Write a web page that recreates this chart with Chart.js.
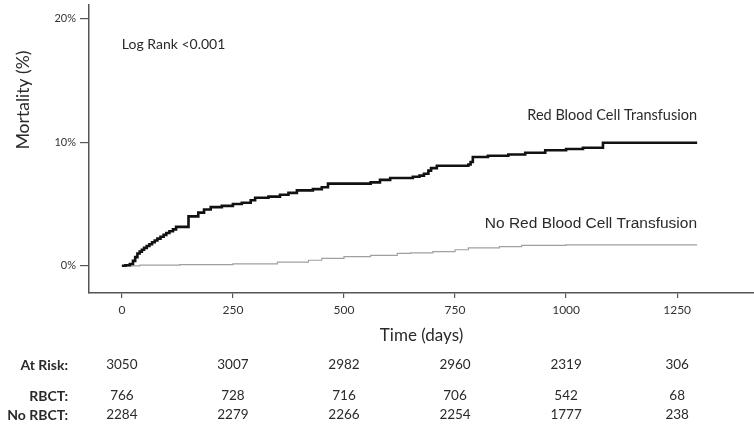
<!DOCTYPE html>
<html><head><meta charset="utf-8">
<script src="https://cdn.jsdelivr.net/npm/chart.js@4.4.0/dist/chart.umd.min.js"></script>
<style>html,body{margin:0;padding:0;background:#fff}#wrap{width:754px;height:429px;position:relative}</style>
</head><body><div id="wrap"><canvas id="c" width="754" height="429"></canvas></div>
<script>
// ---- Data ----
const rbcDays      = [0, 8, 18, 25, 30, 35, 40, 45, 50, 56, 62, 68, 74, 80, 87, 94, 100, 107, 115, 122, 150, 172, 185, 200, 225, 250, 270, 290, 300, 330, 356, 375, 394, 430, 450, 464, 560, 581, 604, 655, 670, 680, 690, 696, 709, 780, 785, 790, 824, 870, 908, 953, 1000, 1038, 1083, 1295];
const rbcMortality = [0, 0.05, 0.15, 0.4, 0.7, 1.0, 1.15, 1.3, 1.45, 1.6, 1.75, 1.9, 2.05, 2.2, 2.35, 2.5, 2.65, 2.8, 2.95, 3.15, 4.0, 4.3, 4.55, 4.75, 4.85, 5.0, 5.1, 5.3, 5.5, 5.6, 5.75, 5.9, 6.1, 6.2, 6.35, 6.65, 6.75, 6.95, 7.1, 7.2, 7.3, 7.45, 7.7, 7.9, 8.1, 8.2, 8.4, 8.8, 8.9, 9.0, 9.15, 9.35, 9.45, 9.55, 9.95, 9.95];
const noRbcDays      = [0, 40, 130, 250, 350, 420, 450, 500, 560, 620, 650, 700, 750, 780, 850, 900, 1000, 1295];
const noRbcMortality = [0, 0.05, 0.1, 0.15, 0.3, 0.45, 0.6, 0.75, 0.85, 1.0, 1.05, 1.15, 1.3, 1.45, 1.55, 1.65, 1.7, 1.7];
const xTicks = [0, 250, 500, 750, 1000, 1250];
const yTicks = [0, 10, 20];
const riskLabels = ['At Risk:', 'RBCT:', 'No RBCT:'];
const atRisk     = [3050, 3007, 2982, 2960, 2319, 306];
const rbctRisk   = [766, 728, 716, 706, 542, 68];
const noRbctRisk = [2284, 2279, 2266, 2254, 1777, 238];
const seriesNames = ['Red Blood Cell Transfusion', 'No Red Blood Cell Transfusion'];

const toPts = (xs, ys) => xs.map((x, i) => ({x: x, y: ys[i]}));
const axisColor = '#555';
const calibri = 'Lato, "Open Sans", sans-serif';

const textPlugin = {
  id: 'texts',
  afterDraw(chart) {
    const ctx = chart.ctx;
    const xs = chart.scales.x;
    ctx.save();
    ctx.fillStyle = '#2a2a2a';
    ctx.textBaseline = 'middle';
    // y axis title
    ctx.save();
    ctx.translate(23, 100);
    ctx.rotate(-Math.PI / 2);
    ctx.textAlign = 'center';
    ctx.font = '17.5px ' + calibri;
    ctx.fillText('Mortality (%)', 0, 0);
    ctx.restore();
    // Log rank
    ctx.textAlign = 'left';
    ctx.font = '14px ' + calibri;
    ctx.fillText('Log Rank <0.001', xs.getPixelForValue(0), 44);
    // series labels
    ctx.textAlign = 'right';
    ctx.font = '14.5px ' + calibri;
    ctx.fillText(seriesNames[0], 697, 115);
    ctx.font = '15.5px "Liberation Sans", Arial, sans-serif';
    ctx.fillText(seriesNames[1], 697, 224);
    // risk table
    const rows = [atRisk, rbctRisk, noRbctRisk];
    const rowY = [365, 396, 415];
    rows.forEach((row, r) => {
      ctx.textAlign = 'right';
      ctx.font = 'bold 14px ' + calibri;
      ctx.fillText(riskLabels[r], 68, rowY[r]);
      ctx.textAlign = 'center';
      ctx.font = '13.5px ' + calibri;
      row.forEach((v, i) => ctx.fillText(String(v), xs.getPixelForValue(xTicks[i]), rowY[r]));
    });
    ctx.restore();
  }
};

new Chart(document.getElementById('c'), {
  type: 'line',
  data: {
    datasets: [
      {label: seriesNames[0], data: toPts(rbcDays, rbcMortality), stepped: true, borderColor: '#111', borderWidth: 2.6, pointRadius: 0, fill: false},
      {label: seriesNames[1], data: toPts(noRbcDays, noRbcMortality), stepped: true, borderColor: '#a0a0a0', borderWidth: 1.2, pointRadius: 0, fill: false}
    ]
  },
  options: {
    responsive: false,
    animation: false,
    layout: {padding: {top: 5, right: 0, left: 0, bottom: 0}},
    plugins: {legend: {display: false}, tooltip: {enabled: false}},
    scales: {
      x: {
        type: 'linear', min: -74, max: 1423,
        afterBuildTicks: s => { s.ticks = xTicks.map(v => ({value: v})); },
        afterFit: s => { s.height = 136; s.paddingLeft = 0; s.paddingRight = 0; },
        border: {display: true, color: axisColor, width: 1.5},
        grid: {drawOnChartArea: false, drawTicks: true, tickLength: 5, color: axisColor, lineWidth: 1.2},
        ticks: {color: '#333', font: {family: calibri, size: 12}, padding: 5, maxRotation: 0, callback: v => String(v)},
        title: {display: true, text: 'Time (days)', color: '#2a2a2a', font: {family: calibri, size: 17}, padding: {top: 0, bottom: 83}}
      },
      y: {
        type: 'linear', min: -2.2, max: 21.1,
        afterBuildTicks: s => { s.ticks = yTicks.map(v => ({value: v})); },
        afterFit: s => { s.width = 89; s.paddingTop = 0; s.paddingBottom = 0; },
        border: {display: true, color: axisColor, width: 1.5},
        grid: {drawOnChartArea: false, drawTicks: true, tickLength: 9, color: axisColor, lineWidth: 1.2},
        ticks: {color: '#333', font: {family: calibri, size: 11}, padding: 4, callback: v => v + '%'}
      }
    }
  },
  plugins: [textPlugin]
});
</script></body></html>
